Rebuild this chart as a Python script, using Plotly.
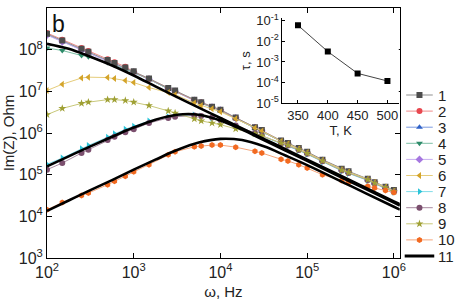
import numpy as np
import plotly.graph_objects as go

# ---------------- data ----------------
freq_hz = [100, 150, 250, 300, 500, 600, 800,
           1e3, 1.5e3, 2.5e3, 3e3, 5e3, 6e3, 8e3,
           1e4, 1.5e4, 2.5e4, 3e4, 5e4, 6e4, 8e4,
           1e5, 1.5e5, 2.5e5, 3e5, 5e5, 6e5, 8e5,
           1e6]

# log10 of Im(Z), Ohm, for each measured series
s1_log = [8.38, 8.22, 8.02, 7.95, 7.75, 7.68, 7.57, 7.48, 7.31, 7.08, 7.02, 6.80, 6.74, 6.63,
          6.56, 6.37, 6.14, 6.07, 5.82, 5.76, 5.64, 5.55, 5.36, 5.14, 5.08, 4.90, 4.82, 4.71, 4.63]
s2_log = [8.40, 8.24, 8.04, 7.97, 7.77, 7.70, 7.59, 7.47, 7.30, 7.07, 7.01, 6.79, 6.73, 6.62,
          6.55, 6.36, 6.13, 6.06, 5.81, 5.75, 5.63, 5.54, 5.35, 5.13, 5.07, 4.89, 4.81, 4.70, 4.62]
s3_log = [8.36, 8.20, 8.00, 7.93, 7.73, 7.66, 7.55, 7.46, 7.29, 7.06, 7.00, 6.78, 6.72, 6.61,
          6.54, 6.35, 6.12, 6.05, 5.80, 5.74, 5.62, 5.53, 5.34, 5.12, 5.06, 4.88, 4.80, 4.69, 4.61]
s4_log = [8.04, 7.98, 7.86, 7.83, 7.69, 7.63, 7.53, 7.45, 7.29, 7.06, 7.00, 6.78, 6.72, 6.61,
          6.54, 6.35, 6.12, 6.05, 5.80, 5.74, 5.62, 5.53, 5.34, 5.12, 5.06, 4.88, 4.80, 4.69, 4.61]
s5_log = [8.35, 8.19, 7.99, 7.92, 7.72, 7.65, 7.54, 7.46, 7.29, 7.06, 7.00, 6.78, 6.72, 6.62,
          6.55, 6.36, 6.13, 6.05, 5.80, 5.74, 5.62, 5.53, 5.34, 5.12, 5.06, 4.88, 4.80, 4.69, 4.61]
s6_log = [7.02, 7.17, 7.32, 7.34, 7.33, 7.31, 7.26, 7.21, 7.09, 6.97, 6.92, 6.72, 6.66, 6.58,
          6.51, 6.34, 6.12, 6.05, 5.80, 5.74, 5.62, 5.53, 5.34, 5.12, 5.06, 4.89, 4.81, 4.70, 4.61]
s7_log = [5.25, 5.40, 5.62, 5.70, 5.90, 5.98, 6.09, 6.16, 6.29, 6.39, 6.41, 6.43, 6.41, 6.36,
          6.30, 6.17, 5.99, 5.93, 5.74, 5.69, 5.58, 5.49, 5.31, 5.09, 5.03, 4.86, 4.78, 4.67, 4.58]
s8_log = [5.12, 5.28, 5.52, 5.60, 5.83, 5.91, 6.02, 6.09, 6.24, 6.36, 6.39, 6.42, 6.41, 6.37,
          6.31, 6.18, 6.00, 5.94, 5.75, 5.70, 5.59, 5.50, 5.32, 5.10, 5.04, 4.87, 4.79, 4.68, 4.59]
s9_log = [6.44, 6.59, 6.71, 6.74, 6.80, 6.80, 6.78, 6.74, 6.66, 6.53, 6.48, 6.34, 6.29, 6.24,
          6.20, 6.10, 5.98, 5.93, 5.76, 5.71, 5.60, 5.51, 5.33, 5.11, 5.05, 4.88, 4.80, 4.69, 4.60]
s10_log = [4.16, 4.33, 4.50, 4.56, 4.76, 4.84, 4.96, 5.07, 5.24, 5.48, 5.55, 5.67, 5.69, 5.71,
           5.71, 5.66, 5.56, 5.52, 5.37, 5.33, 5.24, 5.16, 5.00, 4.86, 4.81, 4.72, 4.68, 4.62, 4.57]

# fitted curves (series 11), log10(frequency) and log10(Im Z)
fit_logf = [2.0, 2.25, 2.5, 2.75, 3.0, 3.25, 3.5, 3.75, 4.0, 4.25, 4.5, 4.75, 5.0, 5.5, 6.0, 6.07]
fit_top_log = [8.14, 8.02, 7.83, 7.62, 7.38, 7.12, 6.86, 6.61, 6.36, 6.11, 5.86, 5.61, 5.36, 4.86, 4.36, 4.29]
fit_mid_log = [5.20, 5.44, 5.68, 5.91, 6.13, 6.32, 6.44, 6.44, 6.30, 6.08, 5.83, 5.58, 5.33, 4.83, 4.33, 4.26]
fit_bot_log = [4.13, 4.38, 4.63, 4.87, 5.12, 5.36, 5.59, 5.77, 5.86, 5.83, 5.68, 5.46, 5.23, 4.73, 4.23, 4.16]

# inset: relaxation time vs temperature
inset_T = [350, 400, 450, 500]
inset_tau = [6.0e-2, 3.2e-3, 2.8e-4, 1.2e-4]

series_names = ["1", "2", "3", "4", "5", "6", "7", "8", "9", "10", "11"]
main_xticks = [1e2, 1e3, 1e4, 1e5, 1e6]
main_yticks = [1e3, 1e4, 1e5, 1e6, 1e7, 1e8, 1e9]
inset_xticks = [350, 400, 450, 500]
inset_yticks = [1e-5, 1e-4, 1e-3, 1e-2, 1e-1]

# ---------------- styles ----------------
marker_colors = ["#4d4d4d", "#e8474f", "#2f62c8", "#2e8b6a", "#a677e0",
                 "#d4a42a", "#2cc4d8", "#7b4f6e", "#9fa034", "#f26a21"]
line_colors = ["#8f8f8f", "#f08a8a", "#7c9ae0", "#7cbfa5", "#c9aef0",
               "#e5cc7a", "#80dce8", "#a88aa0", "#c8c87a", "#f5a57a"]
symbols = ["square", "circle", "triangle-up", "triangle-down", "diamond",
           "triangle-left", "triangle-right", "circle", "star", "hexagon"]
all_series = [s1_log, s2_log, s3_log, s4_log, s5_log, s6_log, s7_log, s8_log, s9_log, s10_log]
draw_order = [2, 4, 3, 1, 0, 5, 6, 7, 8, 9]   # which series is painted on top of which

FONT = "Liberation Sans, Arial, sans-serif"

fig = go.Figure()

for k in draw_order:
    fig.add_trace(go.Scatter(
        x=freq_hz, y=np.power(10.0, all_series[k]), mode="lines+markers",
        name=series_names[k],
        line=dict(color=line_colors[k], width=1),
        marker=dict(symbol=symbols[k], size=6, color=marker_colors[k], line=dict(width=0)),
        showlegend=False, xaxis="x", yaxis="y"))

fit_f = np.power(10.0, fit_logf)
for fit in [fit_top_log, fit_mid_log, fit_bot_log]:
    fig.add_trace(go.Scatter(
        x=fit_f, y=np.power(10.0, fit), mode="lines",
        line=dict(color="black", width=2.6, shape="spline"),
        showlegend=False, xaxis="x", yaxis="y"))

# inset
fig.add_trace(go.Scatter(
    x=inset_T, y=inset_tau, mode="lines+markers",
    line=dict(color="#444444", width=1),
    marker=dict(symbol="square", size=6, color="black"),
    showlegend=False, xaxis="x2", yaxis="y2"))

# custom legend (compact like the original)
annotations = []
for i, name in enumerate(series_names):
    row = i + 1
    if i < 10:
        fig.add_trace(go.Scatter(
            x=[411.5, 438.5], y=[row, row], mode="lines",
            line=dict(color=line_colors[i], width=1),
            showlegend=False, hoverinfo="skip", xaxis="x3", yaxis="y3"))
        fig.add_trace(go.Scatter(
            x=[425], y=[row], mode="markers",
            marker=dict(symbol=symbols[i], size=6, color=marker_colors[i]),
            showlegend=False, hoverinfo="skip", xaxis="x3", yaxis="y3"))
    else:
        fig.add_trace(go.Scatter(
            x=[410, 440], y=[row, row], mode="lines",
            line=dict(color="black", width=3),
            showlegend=False, hoverinfo="skip", xaxis="x3", yaxis="y3"))
    annotations.append(dict(x=442, y=row, xref="x3", yref="y3", text=name,
                            showarrow=False, xanchor="left", yanchor="middle",
                            font=dict(family=FONT, size=15, color="#222222")))

annotations.append(dict(x=0.008, y=0.935, xref="paper", yref="paper", text="b",
                        showarrow=False, xanchor="left", yanchor="middle",
                        font=dict(family=FONT, size=23, color="#111111")))


def sup_labels(vals):
    return ["10<sup>%d</sup>" % round(np.log10(v)) for v in vals]


axis_common = dict(showline=True, linecolor="black", linewidth=1, showgrid=False,
                   zeroline=False, ticks="inside", tickcolor="black")

fig.update_layout(
    width=457, height=308,
    margin=dict(l=47, r=0, t=8, b=50),
    paper_bgcolor="white", plot_bgcolor="white",
    font=dict(family=FONT, color="#222222"),
    xaxis=dict(type="log", range=[2, 6.068], domain=[0, 0.8732], mirror="ticks",
               tickvals=main_xticks, ticktext=sup_labels(main_xticks), ticklen=5,
               tickfont=dict(size=16), anchor="y",
               title=dict(text="ω, Hz", font=dict(size=15), standoff=6), **axis_common),
    yaxis=dict(type="log", range=[3, 9], domain=[0, 1], mirror="ticks",
               tickvals=main_yticks, ticktext=sup_labels(main_yticks), ticklen=5,
               tickfont=dict(size=16), anchor="x",
               title=dict(text="Im(Z), Ohm", font=dict(size=15), standoff=2), **axis_common),
    xaxis2=dict(range=[324, 519], domain=[0.5829, 0.8707], anchor="y2",
                tickvals=inset_xticks, ticklen=3, tickfont=dict(size=13),
                title=dict(text="T, K", font=dict(size=13), standoff=2), **axis_common),
    yaxis2=dict(type="log", range=[-5, -0.88], domain=[0.619, 0.959], anchor="x2",
                tickvals=inset_yticks, ticktext=sup_labels(inset_yticks), ticklen=3,
                tickfont=dict(size=13),
                title=dict(text="τ, s", font=dict(size=13), standoff=2), **axis_common),
    xaxis3=dict(range=[408, 457], domain=[0.8805, 1.0], anchor="y3", visible=False,
                fixedrange=True),
    yaxis3=dict(range=[11.124, -4.404], domain=[0, 1], anchor="x3", visible=False,
                fixedrange=True),
    annotations=annotations,
    showlegend=False,
)

fig.write_html("out.html", config={"displayModeBar": False},
               post_script="document.body.style.margin='0';document.body.style.overflow='hidden';")
